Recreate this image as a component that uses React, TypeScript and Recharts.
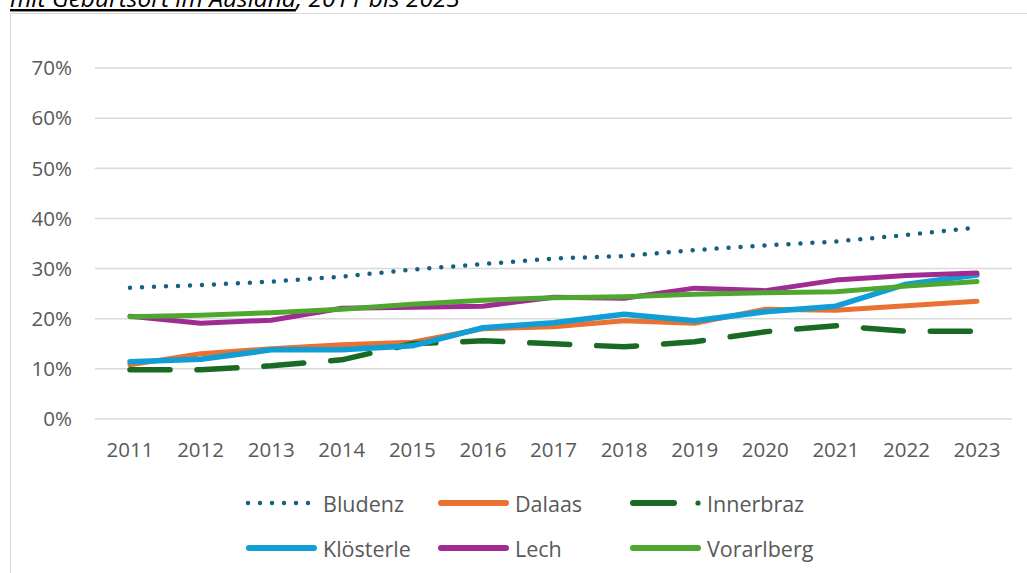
import React from "react"
import { CartesianGrid, Line, LineChart, XAxis, YAxis } from "recharts"

// values in percent
const years = ["2011", "2012", "2013", "2014", "2015", "2016", "2017", "2018", "2019", "2020", "2021", "2022", "2023"]
const bludenz = [26.2, 26.7, 27.4, 28.4, 29.8, 30.9, 32.0, 32.5, 33.7, 34.6, 35.4, 36.7, 38.2]
const dalaas = [10.8, 13.0, 14.0, 14.8, 15.3, 18.0, 18.4, 19.6, 19.1, 21.9, 21.7, 22.6, 23.5]
const innerbraz = [9.8, 9.8, 10.6, 11.8, 15.0, 15.6, 15.0, 14.4, 15.4, 17.4, 18.6, 17.5, 17.5]
const kloesterle = [11.4, 11.9, 13.8, 13.8, 14.6, 18.2, 19.2, 20.9, 19.6, 21.4, 22.5, 26.9, 28.7]
const lech = [20.5, 19.1, 19.7, 22.1, 22.3, 22.5, 24.3, 24.1, 26.1, 25.6, 27.7, 28.6, 29.1]
const vorarlberg = [20.4, 20.7, 21.2, 21.9, 22.9, 23.7, 24.2, 24.4, 24.9, 25.2, 25.4, 26.5, 27.4]
const yTicks = [0, 10, 20, 30, 40, 50, 60, 70]

interface Series {
  key: string
  name: string
  color: string
  values: number[]
  dash?: string
  width: number
}

const series: Series[] = [
  { key: "bludenz", name: "Bludenz", color: "#156082", values: bludenz, dash: "0 12", width: 4.5 },
  { key: "dalaas", name: "Dalaas", color: "#E97132", values: dalaas, width: 5 },
  { key: "innerbraz", name: "Innerbraz", color: "#196B24", values: innerbraz, dash: "40 27", width: 5.5 },
  { key: "kloesterle", name: "Klösterle", color: "#0F9ED5", values: kloesterle, width: 5.5 },
  { key: "lech", name: "Lech", color: "#A02B93", values: lech, width: 5 },
  { key: "vorarlberg", name: "Vorarlberg", color: "#4EA72E", values: vorarlberg, width: 5 },
]

const data = years.map((year, i) => {
  const row: Record<string, string | number> = { year }
  series.forEach((s) => {
    row[s.key] = s.values[i]
  })
  return row
})

const font = "'Open Sans', sans-serif"
const textColor = "#595959"

function LegendBlock() {
  const cols = [246, 438, 630]
  const rows = [503, 548]
  return (
    <svg width={1027} height={573} style={{ position: "absolute", left: 0, top: 0, pointerEvents: "none" }}>
      {series.map((s, i) => {
        const x = cols[i % 3]
        const y = rows[Math.floor(i / 3)]
        let sample: React.ReactNode
        if (s.key === "bludenz") {
          sample = (
            <line x1={x + 2} x2={x + 63.5} y1={y} y2={y} stroke={s.color} strokeWidth={4.5}
              strokeDasharray="0 12" strokeLinecap="round" />
          )
        } else if (s.key === "innerbraz") {
          sample = (
            <g>
              <line x1={x + 3} x2={x + 44} y1={y} y2={y} stroke={s.color} strokeWidth={6} strokeLinecap="round" />
              <circle cx={x + 68} cy={y} r={2.6} fill={s.color} />
            </g>
          )
        } else {
          sample = (
            <line x1={x + 3} x2={x + 68} y1={y} y2={y} stroke={s.color} strokeWidth={6} strokeLinecap="round" />
          )
        }
        return (
          <g key={s.key}>
            {sample}
            <text x={x + 77} y={y} dominantBaseline="central" fontFamily={font} fontSize={21.5} fill={textColor}>
              {s.name}
            </text>
          </g>
        )
      })}
    </svg>
  )
}

export default function App() {
  return (
    <div style={{ position: "absolute", left: 0, top: 0, width: 1027, height: 573, background: "#fff", overflow: "hidden" }}>
      <svg width={1027} height={20} style={{ position: "absolute", left: 0, top: 0 }}>
        <text x={10} y={7} fontFamily={font} fontStyle="italic" fontSize={24.5} fill="#000">
          <tspan textDecoration="underline">mit Geburtsort im Ausland</tspan>
          <tspan>, 2011 bis 2023</tspan>
        </text>
      </svg>
      <div style={{ position: "absolute", left: 10, top: 13, width: 1100, height: 700, border: "1.5px solid #d9d9d9" }} />
      <div style={{ position: "absolute", left: 0, top: 0 }}>
        <LineChart width={1027} height={573} data={data} margin={{ top: 68, right: 15, left: 0, bottom: 124 }}>
          <CartesianGrid vertical={false} stroke="#d9d9d9" strokeWidth={1.5} />
          <XAxis
            dataKey="year"
            axisLine={false}
            tickLine={false}
            tickSize={0}
            tickMargin={23}
            height={30}
            padding={{ left: 35, right: 35 }}
            interval={0}
            tick={{ fill: textColor, fontSize: 20.5, fontFamily: font }}
          />
          <YAxis
            width={95}
            domain={[0, 70]}
            ticks={yTicks}
            axisLine={false}
            tickLine={false}
            tickSize={0}
            tickMargin={23}
            tickFormatter={(v) => `${v}%`}
            tick={{ fill: textColor, fontSize: 20.5, fontFamily: font }}
          />
          {series.map((s) => (
            <Line
              key={s.key}
              type="linear"
              dataKey={s.key}
              name={s.name}
              stroke={s.color}
              strokeWidth={s.width}
              strokeDasharray={s.dash}
              strokeLinecap="round"
              strokeLinejoin="round"
              dot={false}
              activeDot={false}
              isAnimationActive={false}
            />
          ))}
        </LineChart>
      </div>
      <LegendBlock />
    </div>
  )
}
